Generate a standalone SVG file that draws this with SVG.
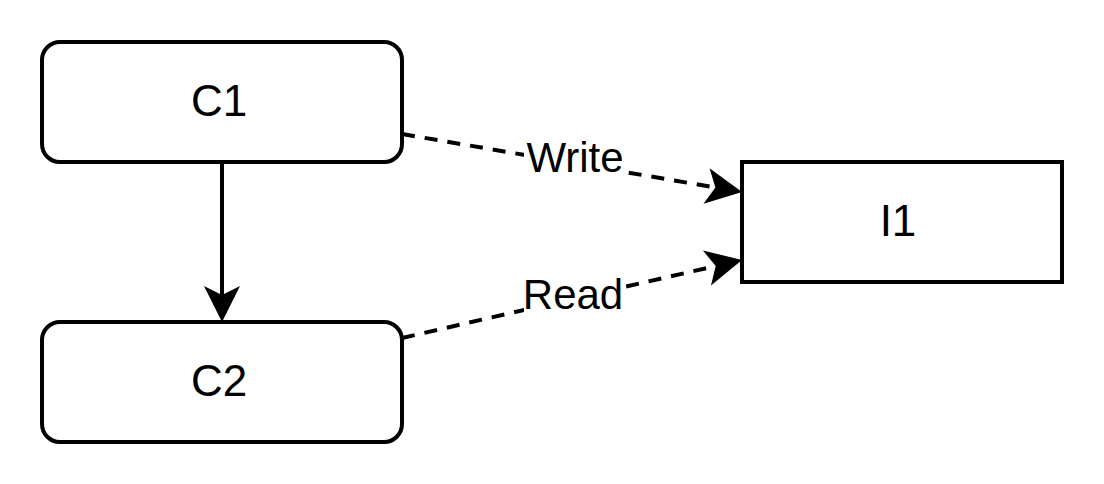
<svg xmlns="http://www.w3.org/2000/svg" width="1104" height="484" viewBox="0 0 1104 484">
<style>
.node{fill:#fff;stroke:#000;stroke-width:4}
.nt{font-family:"Liberation Sans",Arial,sans-serif;font-size:44px;fill:#000;text-anchor:middle}
.lt{font-family:"Liberation Sans",Arial,sans-serif;font-size:42px;fill:#000;text-anchor:middle}
.edge{fill:none;stroke:#000;stroke-width:4}
.dash{stroke-dasharray:13 10}
.lbg{fill:#fff}
</style>
<defs>
<marker id="arr" markerUnits="userSpaceOnUse" markerWidth="40" markerHeight="40" refX="9" refY="18" orient="auto" overflow="visible">
<path d="M36,18 L0,0 L9,18 L0,36 Z" fill="#000"/>
</marker>
</defs>
<rect width="1104" height="484" fill="#fff"/>
<g id="connectors">
<path class="edge" d="M222,162 L222,295" marker-end="url(#arr)"/>
<path class="edge dash" d="M402,134 L715.4,187.5" marker-end="url(#arr)"/>
<path class="edge dash" d="M402,338 L715.7,266" marker-end="url(#arr)"/>
<g id="label-write"><rect class="lbg" x="524" y="139" width="102" height="42"/><text class="lt" x="575" y="172">Write</text></g>
<g id="label-read"><rect class="lbg" x="524" y="278" width="100" height="40"/><text class="lt" x="573" y="309">Read</text></g>
</g>
<g id="C1"><rect class="node" x="42" y="42" width="360" height="120" rx="18" ry="18"/><text class="nt" x="219" y="116">C1</text></g>
<g id="C2"><rect class="node" x="42" y="322" width="360" height="120" rx="18" ry="18"/><text class="nt" x="219" y="396">C2</text></g>
<g id="I1"><rect class="node" x="742" y="162" width="320" height="120"/><text class="nt" x="898" y="236">I1</text></g>
</svg>
